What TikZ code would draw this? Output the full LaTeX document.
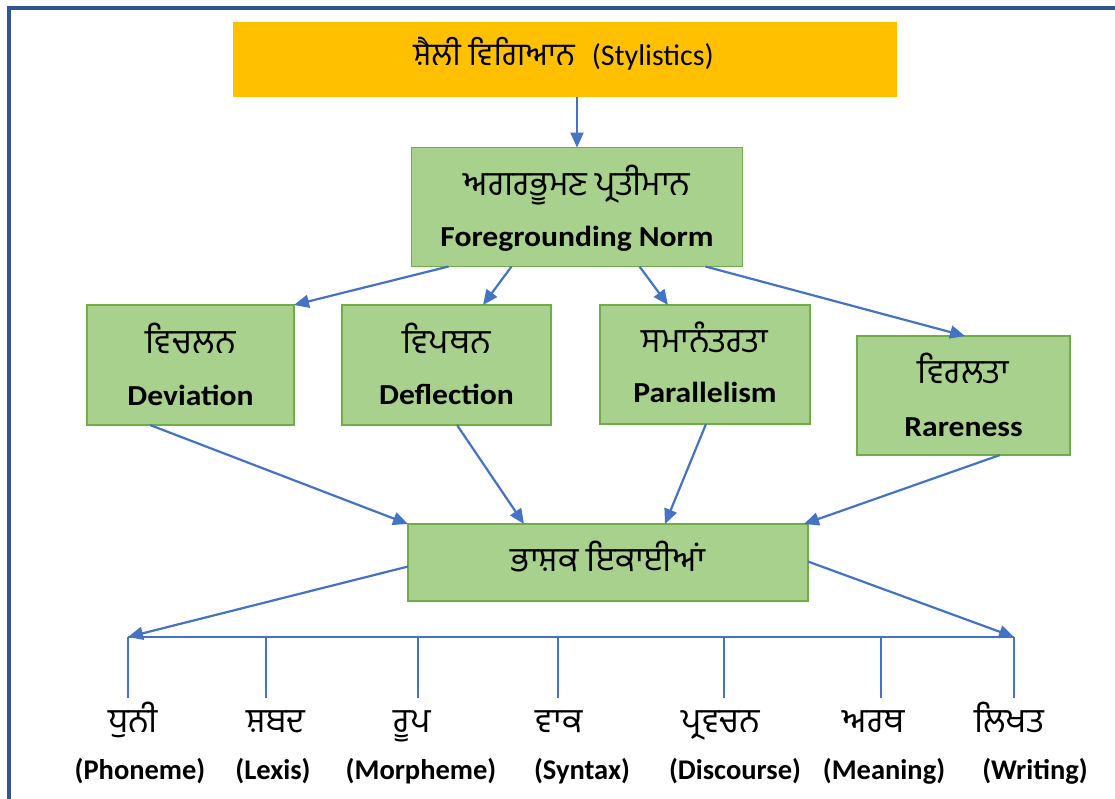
\documentclass[tikz,border=0pt]{standalone}
\usepackage{fontspec}
\setmainfont{Carlito}
\newfontfamily\enbox{Carlito}[FakeStretch=1.09]
\newfontfamily\pa[Script=Gurmukhi]{Hind Jalandhar}
\usetikzlibrary{arrows.meta,calc}
\definecolor{orangebox}{HTML}{FFC000}
\definecolor{greenfill}{HTML}{A9D18E}
\definecolor{greenline}{HTML}{70AD47}
\definecolor{arrowblue}{HTML}{4472C4}
\definecolor{frameblue}{HTML}{2F5597}
\tikzset{
  x=1pt, y=-1pt,
  gbox/.style={draw=greenline, fill=greenfill, line width=1.8pt, inner sep=0pt, outer sep=0pt},
  obox/.style={fill=orangebox, inner sep=0pt, outer sep=0pt, minimum width=664pt, minimum height=75pt},
  conn/.style={draw=arrowblue, line width=2.2pt},
  arr/.style={conn, -{Triangle[length=15pt,width=13pt]}},
  patext/.style={inner sep=0pt, anchor=base, font=\pa\fontsize{34}{40}\selectfont},
  entext/.style={inner sep=0pt, anchor=base, font=\enbox\bfseries\fontsize{29}{34}\selectfont},
  pabottom/.style={inner sep=0pt, anchor=base, font=\pa\fontsize{34}{40}\selectfont},
  enbottom/.style={inner sep=0pt, anchor=base, font=\bfseries\fontsize{28.5}{34}\selectfont},
}
\begin{document}
\begin{tikzpicture}
\useasboundingbox (0,0) rectangle (1115,798);
\begin{scope}
\clip (0,0) rectangle (1115,798);
\draw[frameblue, line width=4pt] (9,7.5) rectangle (1130,815);
\end{scope}

% boxes
\node[obox] (top) at (565,59.5) {};
\node[gbox, minimum width=331pt, minimum height=119pt] (fg) at (577,207) {};
\node[gbox, minimum width=207pt, minimum height=120pt] (dev) at (190.5,365) {};
\node[gbox, minimum width=209pt, minimum height=120pt] (defl) at (446.5,365) {};
\node[gbox, minimum width=210pt, minimum height=119pt] (par) at (705,364.5) {};
\node[gbox, minimum width=213pt, minimum height=119pt] (rare) at (963.5,395.5) {};
\node[gbox, minimum width=400pt, minimum height=77pt] (bh) at (608,562.5) {};

% box texts
\node[inner sep=0pt, anchor=base] (toptext) at (563.5,65.5)
  {{\pa\fontsize{31.5}{36}\selectfont ਸ਼ੈਲੀ ਵਿਗਿਆਨ}\hspace{17pt}{\fontsize{30}{36}\selectfont(Stylistics)}};
\node[patext] (fgpa) at (577,195) {ਅਗਰਭੂਮਣ ਪ੍ਰਤੀਮਾਨ};
\node[entext] (fgen) at (577,246) {Foregrounding Norm};
\node[patext] (devpa) at (190.5,353) {ਵਿਚਲਨ};
\node[entext] (deven) at (190.5,405) {Deviation};
\node[patext] (deflpa) at (446.5,353) {ਵਿਪਥਨ};
\node[entext] (deflen) at (446.5,404) {Deflection};
\node[patext] (parpa) at (705,352) {ਸਮਾਨੰਤਰਤਾ};
\node[entext] (paren) at (705,402) {Parallelism};
\node[patext] (rarepa) at (963.5,383) {ਵਿਰਲਤਾ};
\node[entext] (rareen) at (963.5,436) {Rareness};
\node[patext] (bhpa) at (608,571) {ਭਾਸ਼ਕ ਇਕਾਈਆਂ};

% arrows
\draw[arr] (top.south -| fg.north) -- (fg.north);
\draw[arr] ($(fg.south west)+(37,0)$) -- (dev.north east);
\draw[arr] ($(fg.south west)+(100,0)$) -- ($(defl.north west)+(141,0)$);
\draw[arr] ($(fg.south west)+(228,0)$) -- ($(par.north west)+(68,0)$);
\draw[arr] ($(fg.south west)+(294,0)$) -- ($(rare.north west)+(108,0)$);

\draw[arr] ($(dev.south west)+(63,0)$) -- (bh.north west);
\draw[arr] ($(defl.south west)+(115,0)$) -- ($(bh.north west)+(116,0)$);
\draw[arr] ($(par.south west)+(106,0)$) -- ($(bh.north west)+(257,0)$);
\draw[arr] ($(rare.south west)+(143,0)$) -- ($(bh.north east)+(-4,0)$);

% bus
\coordinate (bl) at (128,637);
\coordinate (br) at (1014,637);
\draw[arr] ($(bh.west)+(0,4)$) -- (bl);
\draw[arr] ($(bh.east)+(0,-1)$) -- (br);
\draw[conn] (bl) -- (br);

\foreach \i/\x in {1/128,2/266,3/418,4/558,5/724,6/881,7/1014}{
  \coordinate (t\i) at (\x,637);
  \coordinate (b\i) at (\x,698);
  \draw[conn] (t\i) -- (b\i);
}

% labels
\node[pabottom] (p1) at (133,732) {ਧੁਨੀ};
\node[pabottom] (p2) at (276,732) {ਸ਼ਬਦ};
\node[pabottom] (p3) at (412,732) {ਰੂਪ};
\node[pabottom] (p4) at (559,732) {ਵਾਕ};
\node[pabottom] (p5) at (721,732) {ਪ੍ਰਵਚਨ};
\node[pabottom] (p6) at (874,732) {ਅਰਥ};
\node[pabottom] (p7) at (1009,732) {ਲਿਖਤ};

\node[enbottom] (e1) at (140,779) {(Phoneme)};
\node[enbottom] (e2) at (273,779) {(Lexis)};
\node[enbottom] (e3) at (421,779) {(Morpheme)};
\node[enbottom] (e4) at (582,779) {(Syntax)};
\node[enbottom] (e5) at (735,779) {(Discourse)};
\node[enbottom] (e6) at (884,779) {(Meaning)};
\node[enbottom] (e7) at (1035,779) {(Writing)};
\end{tikzpicture}
\end{document}
